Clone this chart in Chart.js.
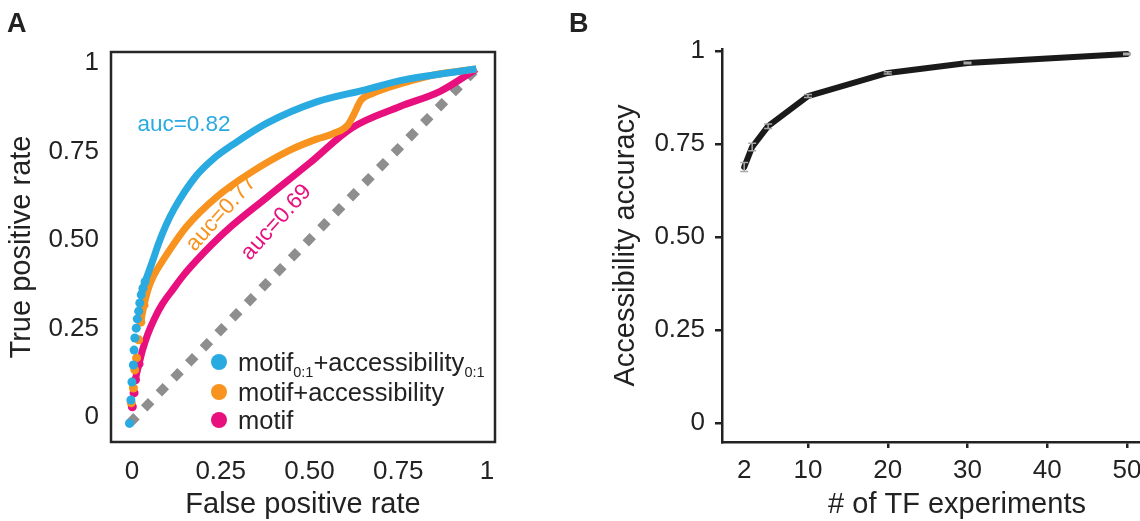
<!DOCTYPE html>
<html>
<head>
<meta charset="utf-8">
<title>ROC and accessibility accuracy</title>
<script src="https://cdn.jsdelivr.net/npm/chart.js@4.4.1/dist/chart.umd.min.js"></script>
<style>
    html, body { margin: 0; padding: 0; background: #fff; overflow: hidden; }
    body { width: 1140px; height: 521px; position: relative; font-family: "Liberation Sans", Arial, sans-serif; color: #222; }
    #roc-chart { position: absolute; left: 0; top: 0; }
    #accuracy-chart { position: absolute; left: 560px; top: 0; }
    .panel-letter { position: absolute; top: 10px; font-weight: bold; font-size: 27px; line-height: 27px; }
    .auc { position: absolute; font-size: 22.5px; line-height: 1; white-space: nowrap; transform: translate(-50%, -50%) rotate(-48deg); }
    .legend-row { position: absolute; left: 211px; height: 30px; display: flex; align-items: center; font-size: 25.5px; white-space: nowrap; }
    .legend-row .dot { flex: none; width: 16px; height: 16px; border-radius: 50%; margin-right: 11px; }
    .legend-row .label { display: block; line-height: 30px; }
    .legend-row sub { font-size: 14.5px; vertical-align: -6px; line-height: 0; }
</style>
</head>
<body>
<canvas id="roc-chart" width="560" height="521"></canvas>
<canvas id="accuracy-chart" width="632" height="521"></canvas>

<div class="panel-letter" style="left:7px">A</div>
<div class="panel-letter" style="left:569px">B</div>

<div class="auc" style="left:184px; top:124px; color:#29aae1; transform:translate(-50%, -50%)">auc=0.82</div>
<div class="auc" style="left:221px; top:213px; color:#f7931e">auc=0.77</div>
<div class="auc" style="left:276px; top:222px; color:#e8107f">auc=0.69</div>

<div class="legend-row" style="top:347px"><span class="dot" style="background:#29aae1"></span><span class="label">motif<sub>0:1</sub>+accessibility<sub>0:1</sub></span></div>
<div class="legend-row" style="top:377px"><span class="dot" style="background:#f7931e"></span><span class="label">motif+accessibility</span></div>
<div class="legend-row" style="top:405px"><span class="dot" style="background:#e8107f"></span><span class="label">motif</span></div>

<script>
// panel A: ROC curves
var fprScaled = [-0.007, -0.003, 0.0, 0.004, 0.006, 0.008, 0.012, 0.015, 0.019, 0.022, 0.026, 0.031, 0.037, 0.045, 0.058, 0.075, 0.095, 0.12, 0.18, 0.23, 0.285, 0.38, 0.52, 0.66, 0.755, 0.85, 0.97];
var tprScaled = [-0.018, 0.048, 0.099, 0.147, 0.189, 0.223, 0.251, 0.277, 0.299, 0.322, 0.345, 0.364, 0.382, 0.404, 0.44, 0.49, 0.54, 0.59, 0.68, 0.73, 0.77, 0.83, 0.89, 0.925, 0.95, 0.966, 0.983];
var fprCombined = [-0.002, 0.004, 0.008, 0.013, 0.019, 0.025, 0.034, 0.045, 0.059, 0.07, 0.088, 0.154, 0.239, 0.332, 0.445, 0.52, 0.566, 0.608, 0.625, 0.645, 0.68, 0.72, 0.78, 0.85, 0.97];
var tprCombined = [0.04, 0.082, 0.133, 0.167, 0.218, 0.268, 0.316, 0.359, 0.395, 0.415, 0.444, 0.538, 0.622, 0.689, 0.754, 0.785, 0.80, 0.825, 0.855, 0.895, 0.915, 0.93, 0.948, 0.966, 0.983];
var fprMotif = [0.001, 0.006, 0.01, 0.02, 0.03, 0.045, 0.062, 0.085, 0.115, 0.145, 0.18, 0.225, 0.27, 0.38, 0.5, 0.62, 0.755, 0.868, 0.97];
var tprMotif = [0.029, 0.068, 0.105, 0.15, 0.19, 0.235, 0.275, 0.318, 0.36, 0.4, 0.44, 0.487, 0.53, 0.62, 0.717, 0.817, 0.877, 0.92, 0.983];
var fprChance = [-0.007, 0.97];
var tprChance = [-0.018, 0.983];
var rocTickValues = [0, 0.25, 0.5, 0.75, 1];
var rocTickLabels = ['0', '0.25', '0.50', '0.75', '1'];

// panel B: accessibility accuracy vs number of TF experiments
var tfExperiments = [2, 3, 5, 10, 20, 30, 50];
var accessAccuracy = [0.688, 0.742, 0.798, 0.879, 0.941, 0.968, 0.992];
var accessError = [0.012, 0.01, 0.006, 0.004, 0.003, 0.002, 0.002];
var tfTickValues = [2, 10, 20, 30, 40, 50];
var accTickValues = [0, 0.25, 0.5, 0.75, 1];
var accTickLabels = ['0', '0.25', '0.50', '0.75', '1'];

Chart.defaults.font.family = '"Liberation Sans", Arial, sans-serif';
Chart.defaults.color = '#222';

function toPoints(xs, ys) {
    return xs.map(function (x, i) { return { x: x, y: ys[i] }; });
}

// only dots (no joining line) on the sparse low end of each curve
function rocDataset(xs, ys, color, dotsBelow) {
    return {
        data: toPoints(xs, ys),
        showLine: true,
        cubicInterpolationMode: 'monotone',
        borderColor: color,
        backgroundColor: color,
        borderWidth: 7,
        pointRadius: function (ctx) {
            var p = ctx.raw;
            return p && p.y < dotsBelow + 0.04 ? 4.5 : 0;
        },
        pointBorderWidth: 0,
        pointBackgroundColor: color,
        segment: {
            borderColor: function (ctx) { return ctx.p1.parsed.y < dotsBelow ? 'transparent' : color; }
        }
    };
}

var framePlugin = {
    id: 'frame',
    afterDraw: function (chart) {
        var a = chart.chartArea, ctx = chart.ctx;
        ctx.save();
        ctx.strokeStyle = '#262626';
        ctx.lineWidth = 2.5;
        ctx.strokeRect(a.left, a.top, a.right - a.left, a.bottom - a.top);
        ctx.restore();
    }
};

var errorBarPlugin = {
    id: 'errorBars',
    afterDatasetsDraw: function (chart) {
        var ctx = chart.ctx, xs = chart.scales.x, ys = chart.scales.y;
        ctx.save();
        ctx.strokeStyle = '#a8a8a8';
        ctx.lineWidth = 1.5;
        tfExperiments.forEach(function (n, i) {
            var px = xs.getPixelForValue(n);
            var lo = ys.getPixelForValue(accessAccuracy[i] - accessError[i]);
            var hi = ys.getPixelForValue(accessAccuracy[i] + accessError[i]);
            ctx.beginPath();
            ctx.moveTo(px, lo); ctx.lineTo(px, hi);
            ctx.moveTo(px - 4, lo); ctx.lineTo(px + 4, lo);
            ctx.moveTo(px - 4, hi); ctx.lineTo(px + 4, hi);
            ctx.stroke();
        });
        ctx.restore();
    }
};

var rocChart = new Chart(document.getElementById('roc-chart'), {
    type: 'scatter',
    data: {
        datasets: [
            rocDataset(fprScaled, tprScaled, '#29aae1', 0.36),
            rocDataset(fprCombined, tprCombined, '#f7931e', 0.3),
            rocDataset(fprMotif, tprMotif, '#e8107f', 0.14),
            {
                data: toPoints(fprChance, tprChance),
                showLine: true,
                borderColor: '#8e8e8e',
                borderWidth: 9,
                borderDash: [10, 11],
                borderCapStyle: 'butt',
                pointRadius: 0
            }
        ]
    },
    options: {
        responsive: false,
        animation: false,
        layout: { padding: { top: 52, right: 65, left: 0, bottom: 0 } },
        plugins: { legend: { display: false }, tooltip: { enabled: false } },
        scales: {
            x: {
                type: 'linear',
                min: -0.059,
                max: 1.0225,
                border: { display: false },
                grid: { display: false, drawTicks: false },
                afterBuildTicks: function (s) { s.ticks = rocTickValues.map(function (v) { return { value: v }; }); },
                afterFit: function (s) { s.height = 79; s.paddingLeft = 0; s.paddingRight = 0; },
                ticks: {
                    padding: 14,
                    maxRotation: 0,
                    autoSkip: false,
                    font: { size: 26 },
                    callback: function (v, i) { return rocTickLabels[i]; }
                },
                title: { display: true, text: 'False positive rate', font: { size: 29, lineHeight: 1 }, padding: { top: 0, bottom: 1.5 } }
            },
            y: {
                type: 'linear',
                min: -0.0706,
                max: 1.031,
                border: { display: false },
                grid: { display: false, drawTicks: false },
                afterBuildTicks: function (s) { s.ticks = rocTickValues.map(function (v) { return { value: v }; }); },
                afterFit: function (s) { s.width = 111; s.paddingTop = 0; s.paddingBottom = 0; },
                ticks: {
                    padding: 12,
                    autoSkip: false,
                    font: { size: 26 },
                    callback: function (v, i) { return rocTickLabels[i]; }
                },
                title: { display: true, text: 'True positive rate', font: { size: 29, lineHeight: 1 }, padding: { top: 7.5, bottom: 0 } }
            }
        }
    },
    plugins: [framePlugin]
});

var accuracyChart = new Chart(document.getElementById('accuracy-chart'), {
    type: 'line',
    data: {
        datasets: [{
            data: toPoints(tfExperiments, accessAccuracy),
            borderColor: '#1a1a1a',
            borderWidth: 6,
            borderJoinStyle: 'round',
            borderCapStyle: 'round',
            pointRadius: 0,
            fill: false
        }]
    },
    options: {
        responsive: false,
        animation: false,
        layout: { padding: { top: 49, right: 0, left: 0, bottom: 0 } },
        plugins: { legend: { display: false }, tooltip: { enabled: false } },
        scales: {
            x: {
                type: 'linear',
                min: -0.784,
                max: 58.15,
                border: { display: true, color: '#222', width: 2.5 },
                grid: {
                    display: true,
                    drawOnChartArea: false,
                    tickLength: 6,
                    lineWidth: 2.5,
                    tickColor: function (ctx) { return ctx.tick && ctx.tick.value === 2 ? 'rgba(0,0,0,0)' : '#222'; }
                },
                afterBuildTicks: function (s) { s.ticks = tfTickValues.map(function (v) { return { value: v }; }); },
                afterFit: function (s) { s.height = 79; s.paddingLeft = 0; s.paddingRight = 0; },
                ticks: {
                    padding: 7.5,
                    maxRotation: 0,
                    autoSkip: false,
                    font: { size: 26 },
                    callback: function (v) { return String(v); }
                },
                title: { display: true, text: '# of TF experiments', font: { size: 29, lineHeight: 1 }, padding: { top: 0, bottom: 1.5 } }
            },
            y: {
                type: 'linear',
                min: -0.0511,
                max: 1.0054,
                border: { display: true, color: '#222', width: 2.5 },
                grid: { display: true, drawOnChartArea: false, tickLength: 7, lineWidth: 2.5, tickColor: '#222' },
                afterBuildTicks: function (s) { s.ticks = accTickValues.map(function (v) { return { value: v }; }); },
                afterFit: function (s) { s.width = 162; s.paddingTop = 0; s.paddingBottom = 0; },
                ticks: {
                    padding: 10,
                    autoSkip: false,
                    font: { size: 26 },
                    callback: function (v, i) { return accTickLabels[i]; }
                },
                title: { display: true, text: 'Accessibility accuracy', font: { size: 29, lineHeight: 1 }, padding: { top: 51, bottom: 0 } }
            }
        }
    },
    plugins: [errorBarPlugin]
});
</script>
</body>
</html>
